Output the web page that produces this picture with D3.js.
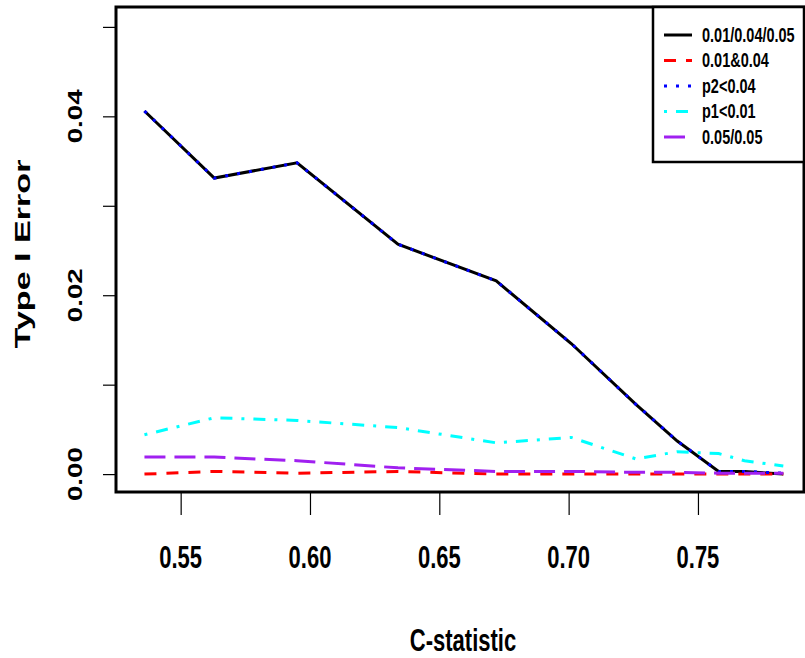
<!DOCTYPE html>
<html>
<head>
<meta charset="utf-8">
<script src="https://cdn.jsdelivr.net/npm/d3@7"></script>
<style>
  body { margin: 0; background: #fff; }
  text { font-family: 'Liberation Sans', Arial, sans-serif; font-weight: bold; fill: #000; }
</style>
</head>
<body>
<script>
var cstat = [0.536, 0.563, 0.595, 0.634, 0.672, 0.701, 0.726, 0.742, 0.758, 0.768, 0.783]

var allThree = [0.0406, 0.0331, 0.0348, 0.0257, 0.0216, 0.0146, 0.0078, 0.0037, 0.0003, 0.0003, 0.0000]
var bothOne = [0.0000, 0.0003, 0.0001, 0.0003, 0.0000, 0.0000, 0.0000, 0.0000, 0.0000, 0.0000, 0.0000]
var p2Only = [0.0406, 0.0331, 0.0348, 0.0257, 0.0216, 0.0146, 0.0078, 0.0037, 0.0003, 0.0003, 0.0001]
var p1Only = [0.0044, 0.0063, 0.0060, 0.0052, 0.0035, 0.0041, 0.0017, 0.0025, 0.0023, 0.0015, 0.0009]
var equalSplit = [0.0019, 0.0019, 0.0015, 0.0007, 0.0003, 0.0003, 0.0002, 0.0002, 0.0001, 0.0001, 0.0001]

var seriesNames = ['0.01/0.04/0.05', '0.01&0.04', 'p2<0.04', 'p1<0.01', '0.05/0.05']
var xTicks = [0.55, 0.60, 0.65, 0.70, 0.75]
var yTicks = [0, 0.01, 0.02, 0.03, 0.04, 0.05]

var w = 805
var h = 658

var box = {left: 116, right: 804, top: 7, bottom: 492}

var series = [
  {name: seriesNames[0], values: allThree, color: '#000000', dash: null},
  {name: seriesNames[1], values: bothOne, color: '#ff0000', dash: '12,10'},
  {name: seriesNames[2], values: p2Only, color: '#0000ff', dash: '3,9'},
  {name: seriesNames[3], values: p1Only, color: '#00ffff', dash: '3,9,12,9'},
  {name: seriesNames[4], values: equalSplit, color: '#a020f0', dash: '21,9'}
]

var svg = d3.select('body')
            .append('svg')
            .attr('width', w)
            .attr('height', h)

var x = d3.scaleLinear()
        .domain([0.525, 0.791])
        .range([box.left, box.right])

var y = d3.scaleLinear()
        .domain([-0.002, 0.052])
        .range([box.bottom, 9])

// the picture is stretched vertically, so text gets scaled the same way
function stretched (sel, tx, ty, s, rot) {
  return sel.attr('transform', 'translate(' + tx + ',' + ty + ') scale(1,' + s + ')' + (rot ? ' rotate(-90)' : ''))
}

// LINES
var line = d3.line()
            .x(function (d) { return x(d[0]) })
            .y(function (d) { return y(d[1]) })

svg.selectAll('.series')
    .data(series)
    .enter()
      .append('path')
      .classed('series', true)
      .attr('d', function (d) {
        return line(cstat.map(function (c, i) { return [c, d.values[i]] }))
      })
      .attr('fill', 'none')
      .attr('stroke', function (d) { return d.color })
      .attr('stroke-width', 3)
      .attr('stroke-dasharray', function (d) { return d.dash })

// PLOT BOX
svg.append('rect')
    .attr('x', box.left)
    .attr('y', box.top)
    .attr('width', box.right - box.left)
    .attr('height', box.bottom - box.top)
    .attr('fill', 'none')
    .attr('stroke', '#000')
    .attr('stroke-width', 3)

// X AXIS
var xAxis = d3.axisBottom(x)
              .tickValues(xTicks)
              .tickSize(22)
              .tickFormat(d3.format('.2f'))

var gx = svg.append('g')
    .attr('transform', 'translate(0,' + (box.bottom + 1) + ')')
    .call(xAxis)
gx.select('.domain').remove()
gx.selectAll('.tick line').attr('stroke', '#000').attr('stroke-width', 1.2)
gx.selectAll('.tick text').remove()

svg.selectAll('.x-label')
    .data(xTicks)
    .enter()
      .append('text')
      .classed('x-label', true)
      .attr('text-anchor', 'middle')
      .attr('font-size', 22)
      .text(d3.format('.2f'))
      .each(function (d) { stretched(d3.select(this), x(d), 568, 1.45, false) })

// Y AXIS
var yAxis = d3.axisLeft(y)
              .tickValues(yTicks)
              .tickSize(13)
              .tickFormat('')

var gy = svg.append('g')
    .attr('transform', 'translate(' + box.left + ',0)')
    .call(yAxis)
gy.select('.domain').remove()
gy.selectAll('.tick line').attr('stroke', '#000').attr('stroke-width', 1.2)

svg.selectAll('.y-label')
    .data([0, 0.02, 0.04])
    .enter()
      .append('text')
      .classed('y-label', true)
      .attr('text-anchor', 'middle')
      .attr('font-size', 21)
      .text(d3.format('.2f'))
      .each(function (d) { stretched(d3.select(this), 82, y(d), 1.32, true) })

// AXIS TITLES
stretched(svg.append('text')
    .attr('text-anchor', 'middle')
    .attr('font-size', 22)
    .text('C-statistic'), 463, 651, 1.45, false)

stretched(svg.append('text')
    .attr('text-anchor', 'middle')
    .attr('font-size', 22)
    .text('Type I Error'), 30, 254, 1.55, true)

// LEGEND
var legend = svg.append('g')

legend.append('rect')
    .attr('x', 653)
    .attr('y', box.top)
    .attr('width', box.right - 653)
    .attr('height', 162 - box.top)
    .attr('fill', '#fff')
    .attr('stroke', '#000')
    .attr('stroke-width', 2.5)

var rows = legend.selectAll('.row')
    .data(series)
    .enter()
      .append('g')
      .classed('row', true)
      .attr('transform', function (d, i) { return 'translate(0,' + (35 + i * 25.5) + ')' })

rows.append('line')
    .attr('x1', 664)
    .attr('x2', 692)
    .attr('stroke', function (d) { return d.color })
    .attr('stroke-width', 3)
    .attr('stroke-dasharray', function (d) { return d.dash })

rows.append('text')
    .attr('font-size', 14.5)
    .attr('dy', '0.35em')
    .text(function (d) { return d.name })
    .attr('transform', 'translate(702,0) scale(1,1.35)')
</script>
</body>
</html>
